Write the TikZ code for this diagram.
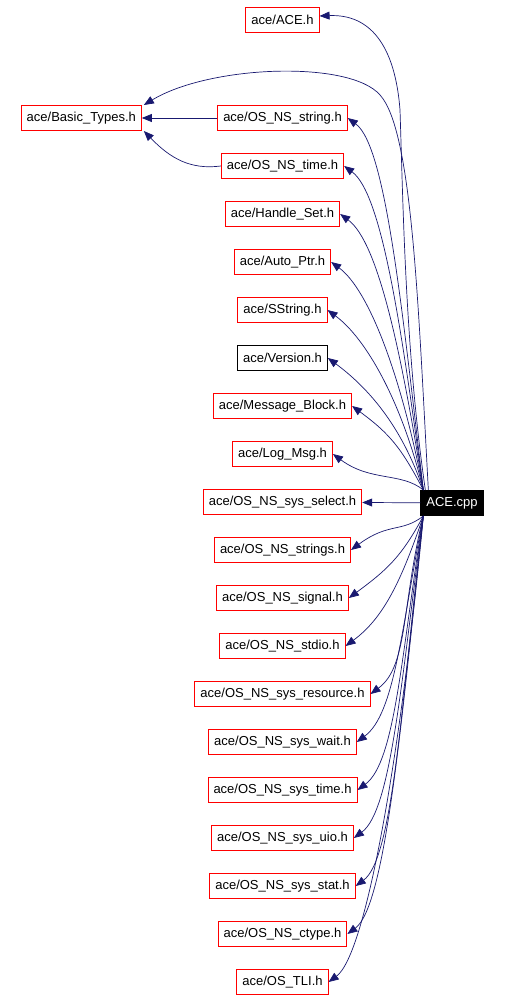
\documentclass[tikz,border=0pt]{standalone}
\usepackage{fontspec}
\setmainfont{Liberation Sans}
\usetikzlibrary{arrows.meta,positioning,calc}
\definecolor{edgeblue}{HTML}{191970}
\definecolor{hdrred}{HTML}{FF0000}

\begin{document}
\begin{tikzpicture}[x=1pt,y=1pt,
    hdr/.style={rectangle,draw=hdrred,line width=1pt,inner xsep=5.5pt,inner ysep=0pt,
      minimum height=25pt,font=\fontsize{13}{15}\selectfont},
    hdrplain/.style={hdr,draw=black},
    cppbox/.style={hdr,draw=black,fill=black,text=white},
    incl/.style={draw=edgeblue,line width=0.7pt,-{Triangle[length=10pt,width=8pt]}}]
\useasboundingbox (0,0) rectangle (506,-1000);
    % Included headers
\node[hdr] (ace) at (282.5,-20) {ace/ACE.h};
\node[hdr] (basic) at (81.3,-118) {ace/Basic\_Types.h};
\node[hdr] (string) at (282.5,-118) {ace/OS\_NS\_string.h};
\node[hdr] (time) at (282.5,-166) {ace/OS\_NS\_time.h};
\node[hdr] (handle) at (282.5,-214) {ace/Handle\_Set.h};
\node[hdr] (autoptr) at (282.5,-262) {ace/Auto\_Ptr.h};
\node[hdr] (sstring) at (282.5,-310) {ace/SString.h};
\node[hdrplain] (version) at (282.5,-358) {ace/Version.h};
\node[hdr] (msgblock) at (282.5,-406) {ace/Message\_Block.h};
\node[hdr] (logmsg) at (282.5,-454) {ace/Log\_Msg.h};
\node[hdr] (select) at (282.5,-502) {ace/OS\_NS\_sys\_select.h};
\node[hdr] (strings) at (282.5,-550) {ace/OS\_NS\_strings.h};
\node[hdr] (signal) at (282.5,-598) {ace/OS\_NS\_signal.h};
\node[hdr] (stdio) at (282.5,-646) {ace/OS\_NS\_stdio.h};
\node[hdr] (resource) at (282.5,-694) {ace/OS\_NS\_sys\_resource.h};
\node[hdr] (wait) at (282.5,-742) {ace/OS\_NS\_sys\_wait.h};
\node[hdr] (systime) at (282.5,-790) {ace/OS\_NS\_sys\_time.h};
\node[hdr] (uio) at (282.5,-838) {ace/OS\_NS\_sys\_uio.h};
\node[hdr] (stat) at (282.5,-886) {ace/OS\_NS\_sys\_stat.h};
\node[hdr] (ctype) at (282.5,-934) {ace/OS\_NS\_ctype.h};
\node[hdr] (tli) at (282.5,-982) {ace/OS\_TLI.h};
    % Source file
\node[cppbox] (cpp) at (452,-503) {ACE.cpp};

    % Edges going up
\draw[incl] ($(cpp.north west)+(5,0)$) .. controls (405,-350) and (403,-200) .. (400,-110)
  .. controls (395,-45) and (370,-14) .. ($(ace.east)+(0,4)$);
\draw[incl] ($(cpp.north west)+(8,0)$) .. controls (418,-300) and (412,-130) .. (380,-95)
  .. controls (350,-60) and (210,-65) .. ($(basic.north east)+(2,0)$);
\foreach \hname in {string,time,handle,autoptr,sstring,version,msgblock,logmsg}
  \draw[incl] let \p1=($(cpp.north west)+(3,0)$), \p2=(\hname.east) in
    (\p1) .. controls (\x1-22pt,{0.5*(\y1+\y2)}) and (\x2+38pt,\y2-28pt) .. (\p2);
\draw[incl] (cpp) -- (select);
    % Edges going down
\foreach \hname in {strings,signal,stdio,resource,wait,systime,uio,stat,ctype,tli}
  \draw[incl] let \p1=($(cpp.south west)+(3,0)$), \p2=(\hname.east) in
    (\p1) .. controls (\x1-22pt,{0.5*(\y1+\y2)}) and (\x2+38pt,\y2+28pt) .. (\p2);
    % Basic types users
\draw[incl] (string) -- (basic);
\draw[incl] (time.west) .. controls (190,-170) and (170,-158) .. ($(basic.south east)+(2,0)$);
\end{tikzpicture}
\end{document}
